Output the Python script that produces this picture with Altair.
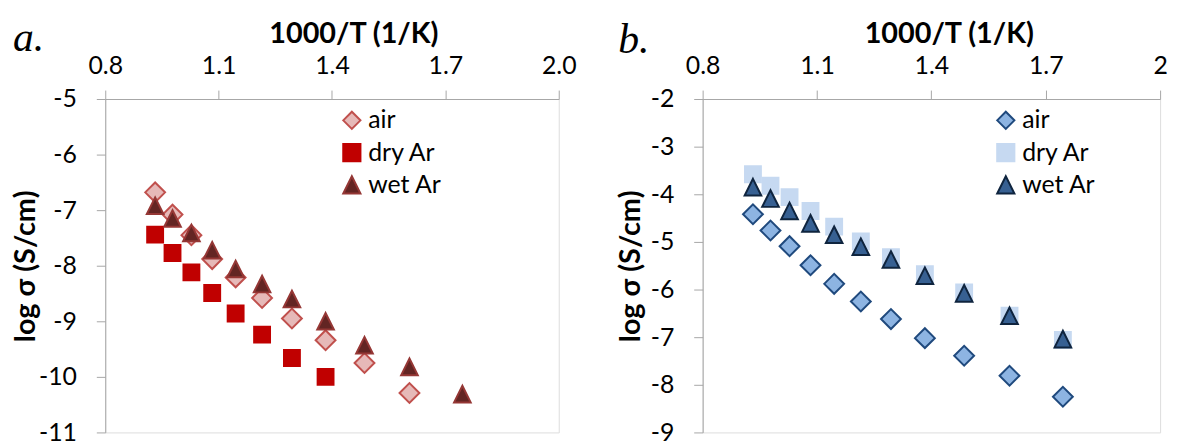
import altair as alt
import pandas as pd

# 1000/T values (1/K)
inv_T = [0.932, 0.978, 1.028, 1.083, 1.145, 1.215, 1.294, 1.383, 1.486, 1.605, 1.745]
series_names = ["air", "dry Ar", "wet Ar"]

# panel a
a_air = [-6.68, -7.08, -7.45, -7.88, -8.21, -8.58, -8.95, -9.34, -9.75, -10.29]
a_dry = [-7.44, -7.77, -8.12, -8.49, -8.86, -9.24, -9.66, -10.00]
a_wet = [-6.92, -7.15, -7.41, -7.72, -8.06, -8.33, -8.60, -9.00, -9.43, -9.82, -10.31]

# panel b
b_air = [-4.42, -4.76, -5.09, -5.49, -5.88, -6.25, -6.62, -7.02, -7.39, -7.81, -8.25]
b_dry = [-3.58, -3.82, -4.06, -4.35, -4.68, -4.99, -5.32, -5.68, -6.06, -6.55, -7.06]
b_wet = [-3.85, -4.09, -4.35, -4.61, -4.85, -5.10, -5.37, -5.71, -6.08, -6.55, -7.04]

panel_letters = ["a.", "b."]
x_ticks = [0.8, 1.1, 1.4, 1.7, 2.0]
y_ticks_a = [-5, -6, -7, -8, -9, -10, -11]
y_ticks_b = [-2, -3, -4, -5, -6, -7, -8, -9]

a_fill = ["#E6B9B8", "#C00000", "#632523"]
a_stroke = ["#C0504D", "#C00000", "#953735"]
b_fill = ["#8DB4E2", "#C6D9F1", "#376092"]
b_stroke = ["#1F497D", "#C6D9F1", "#0F243E"]
marker_shapes = ["diamond", "square", "M0,-1L1,1L-1,1Z"]
marker_sizes = [400, 256, 280]

AXIS_GREY = "#A6A6A6"
FONT = "Lato"


def frame(air, dry, wet):
    rows = []
    for name, vals in zip(series_names, [air, dry, wet]):
        for x, y in zip(inv_T, vals):
            rows.append({"invT": x, "logsig": y, "series": name})
    return pd.DataFrame(rows)


def panel(df, letter, y_dom, y_ticks, fills, strokes, width, x_label_expr,
          title_x, y_title_x, legend_x, letter_x, letter_y):
    x_axis = alt.Axis(
        orient="top", values=x_ticks, labelExpr=x_label_expr,
        title="1000/T (1/K)", titleFont=FONT, titleFontSize=29, titleFontWeight="bold",
        titleColor="black", titleX=title_x, titleY=-57, titleBaseline="alphabetic",
        titleAlign="center",
        labelFont=FONT, labelFontSize=25, labelColor="black", labelBaseline="alphabetic",
        labelPadding=17, labelFlush=False, labelOverlap=False,
        tickSize=9, tickColor=AXIS_GREY, domainColor=AXIS_GREY, grid=False,
    )
    y_axis = alt.Axis(
        orient="left", values=y_ticks, labelExpr="'' + datum.value",
        title="log σ (S/cm)", titleFont=FONT, titleFontSize=29, titleFontWeight="bold",
        titleColor="black", titleX=y_title_x, titleY=168, titleAngle=270,
        titleBaseline="alphabetic", titleAlign="center",
        labelFont=FONT, labelFontSize=25, labelColor="black", labelPadding=20,
        labelFlush=False, labelOverlap=False,
        tickSize=9, tickColor=AXIS_GREY, domainColor=AXIS_GREY, grid=False,
    )
    legend = alt.Legend(
        title=None, orient="none", legendX=legend_x, legendY=9, padding=0,
        labelFont=FONT, labelFontSize=25, labelColor="black", labelOffset=4,
        rowPadding=5.5, symbolSize=300, symbolStrokeWidth=2,
    )
    base = alt.Chart(df).encode(
        x=alt.X("invT:Q", scale=alt.Scale(domain=[0.8, 2.0], nice=False, zero=False), axis=x_axis),
        y=alt.Y("logsig:Q", scale=alt.Scale(domain=y_dom, nice=False, zero=False), axis=y_axis),
        fill=alt.Fill("series:N", scale=alt.Scale(domain=series_names, range=fills), legend=legend),
        stroke=alt.Stroke("series:N", scale=alt.Scale(domain=series_names, range=strokes), legend=legend),
        shape=alt.Shape("series:N", scale=alt.Scale(domain=series_names, range=marker_shapes), legend=legend),
    )
    layers = [
        base.transform_filter(alt.datum.series == name).mark_point(
            filled=True, opacity=1, strokeWidth=2, size=sz
        )
        for name, sz in zip(series_names, marker_sizes)
    ]
    label = alt.Chart(pd.DataFrame({"letter": [letter]})).mark_text(
        font="Liberation Serif", fontSize=42, fontStyle="italic", color="black",
        align="left", baseline="alphabetic",
    ).encode(text="letter:N", x=alt.value(letter_x), y=alt.value(letter_y))
    return alt.layer(*layers, label).properties(width=width, height=336)


left = panel(frame(a_air, a_dry, a_wet), panel_letters[0], [-11, -5], y_ticks_a, a_fill, a_stroke, 457,
             "format(datum.value, '.1f')", 250, -71, 236, -93, -48.5)
right = panel(frame(b_air, b_dry, b_wet), panel_letters[1], [-9, -2], y_ticks_b, b_fill, b_stroke, 461,
              "datum.value == 2 ? '2' : format(datum.value, '.1f')", 248, -64, 293, -85, -46.7)

chart = alt.hconcat(left, right, spacing=145, bounds="flush").resolve_scale(
    fill="independent", stroke="independent", shape="independent"
).resolve_legend(
    fill="independent", stroke="independent", shape="independent"
).properties(
    padding={"left": 3, "top": 7, "right": 5, "bottom": 5}
).configure_view(strokeOpacity=0).configure(background="white")

chart.save("out.html", embed_options={"renderer": "svg", "actions": False})
